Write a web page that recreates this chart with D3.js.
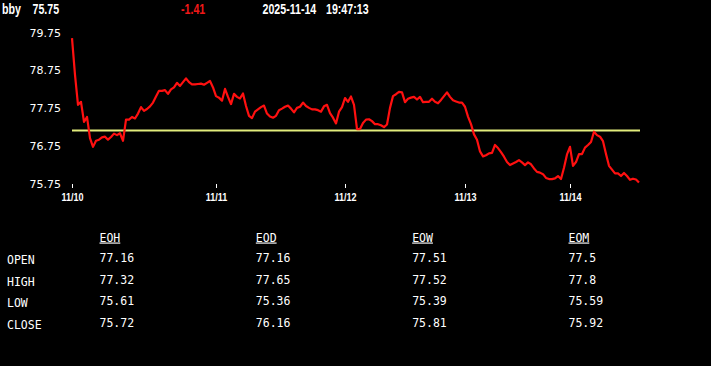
<!DOCTYPE html>
<html>
<head>
<meta charset="utf-8">
<script src="https://cdn.jsdelivr.net/npm/d3@7"></script>
<style>
  body { margin: 0; background: #000; }
  svg { display: block; }
</style>
</head>
<body>
<div id="chart"></div>
<script>
// quote header
const symbol = "bby";
const last = "75.75";
const change = "-1.41";
const stamp = ["2025-11-14", "19:47:13"];
const prevClose = 77.16;

// intraday prices, one array per session
const day10 = [79.60, 78.63, 77.84, 77.92, 77.39, 77.52, 76.96, 76.73, 76.89, 76.92,
  76.98, 77.00, 76.92, 76.99, 77.08, 77.04, 77.09, 76.89, 77.45, 77.45,
  77.52, 77.48, 77.61, 77.78, 77.68, 77.73, 77.80, 77.90, 78.06, 78.21,
  78.21, 78.23, 78.13, 78.25, 78.30, 78.42, 78.34, 78.44, 78.54, 78.44,
  78.38, 78.38, 78.39, 78.40, 78.37, 78.42, 78.47, 78.30];
const day11 = [78.07, 78.03, 77.95, 78.26, 78.05, 77.86, 78.13, 78.05, 78.01, 78.14,
  77.81, 77.55, 77.49, 77.66, 77.72, 77.78, 77.82, 77.61, 77.53, 77.50,
  77.55, 77.70, 77.74, 77.79, 77.82, 77.74, 77.64, 77.76, 77.79, 77.90,
  77.81, 77.76, 77.72, 77.72, 77.70, 77.66, 77.80, 77.84, 77.62, 77.50,
  77.35, 77.66, 77.78];
const day12 = [78.02, 77.92, 78.06, 77.84, 77.20, 77.20, 77.36, 77.45, 77.46, 77.41,
  77.33, 77.33, 77.30, 77.25, 77.32, 77.76, 78.07, 78.12, 78.18, 78.17,
  77.91, 78.00, 78.03, 78.05, 77.98, 78.05, 77.91, 77.92, 77.92, 78.00,
  77.92, 77.88, 77.97, 78.07, 78.17, 78.05, 77.96, 77.93, 77.90, 77.90];
const day13 = [77.79, 77.53, 77.33, 77.06, 76.92, 76.61, 76.48, 76.51, 76.56, 76.57,
  76.78, 76.70, 76.59, 76.47, 76.33, 76.25, 76.29, 76.33, 76.38, 76.32,
  76.25, 76.32, 76.27, 76.16, 76.07, 76.05, 76.01, 75.91, 75.88, 75.88,
  75.90, 75.96, 75.88, 76.18, 76.53];
const day14 = [76.73, 76.23, 76.33, 76.54, 76.54, 76.71, 76.78, 76.86, 77.13, 77.04,
  77.00, 76.88, 76.54, 76.23, 76.13, 76.03, 76.03, 75.96, 76.04, 75.96,
  75.86, 75.89, 75.87, 75.79];
const dayLabels = ["11/10", "11/11", "11/12", "11/13", "11/14"];
const yTicks = [75.75, 76.75, 77.75, 78.75, 79.75];

// summary table
const columns = ["EOH", "EOD", "EOW", "EOM"];
const rowNames = ["OPEN", "HIGH", "LOW", "CLOSE"];
const eoh = ["77.16", "77.32", "75.61", "75.72"];
const eod = ["77.16", "77.65", "75.36", "76.16"];
const eow = ["77.51", "77.52", "75.39", "75.81"];
const eom = ["77.5", "77.8", "75.59", "75.92"];

const width = 711, height = 366;

const svg = d3.select("#chart")
  .append("svg")
    .attr("width", width)
    .attr("height", height)
    .style("background", "#000");

// build the series and the bar index where each day starts
const days = [day10, day11, day12, day13, day14];
const prices = [];
const dayStart = [];
days.forEach(d => { dayStart.push(prices.length); d.forEach(p => prices.push(p)); });

const x = d3.scaleLinear().domain([0, prices.length - 1]).range([72, 639]);
const y = d3.scaleLinear().domain([75.75, 79.75]).range([184, 32.5]);

// header line (narrow bold face)
const header = svg.append("g")
  .attr("font-family", "'Liberation Sans', Arial, sans-serif")
  .attr("font-weight", "bold")
  .attr("font-size", 14);
[[2, symbol, "#fff"], [32.5, last, "#fff"], [181, change, "#f01818"],
 [262.5, stamp[0], "#fff"], [326, stamp[1], "#fff"]].forEach(h => {
  header.append("text")
    .attr("transform", "translate(" + h[0] + ",14) scale(0.76,1)")
    .attr("fill", h[2])
    .text(h[1]);
});

// y axis, labels only
const yAxis = svg.append("g")
  .attr("transform", "translate(64,0)")
  .call(d3.axisLeft(y).tickValues(yTicks).tickSize(0).tickPadding(3).tickFormat(d3.format(".2f")));
yAxis.select(".domain").remove();
yAxis.selectAll("text")
  .attr("fill", "#fff")
  .attr("font-family", "'DejaVu Sans', Verdana, sans-serif")
  .attr("font-size", 11);

// x axis, a tick at the first bar of each day
const xAxis = svg.append("g")
  .attr("transform", "translate(0,184)")
  .call(d3.axisBottom(x).tickValues(dayStart).tickSize(4).tickPadding(5)
    .tickFormat((d, i) => dayLabels[i]));
xAxis.select(".domain").remove();
xAxis.selectAll("line").attr("stroke", "#fff");
xAxis.selectAll("text")
  .attr("fill", "#fff")
  .attr("font-family", "'Liberation Sans', Arial, sans-serif")
  .attr("font-weight", "bold")
  .attr("font-size", 11)
  .attr("transform", "scale(0.82,1)");

// previous close reference
svg.append("line")
  .attr("x1", x(0))
  .attr("x2", x(prices.length - 1) + 1)
  .attr("y1", y(prevClose))
  .attr("y2", y(prevClose))
  .attr("stroke", "#e2ec7c")
  .attr("stroke-width", 2);

// price line
const line = d3.line()
  .x((d, i) => x(i))
  .y(d => y(d));

svg.append("path")
  .datum(prices)
  .attr("fill", "none")
  .attr("stroke", "#ff1010")
  .attr("stroke-width", 2.2)
  .attr("stroke-linejoin", "round")
  .attr("d", line);

// table
const colX = d3.scalePoint().domain(columns).range([99.5, 568.5]);
const rowY = d3.scalePoint().domain(rowNames).range([264, 329]);
const tableCols = [eoh, eod, eow, eom];

const table = svg.append("g")
  .attr("font-family", "'DejaVu Sans Mono', 'Liberation Mono', monospace")
  .attr("font-size", 11.5)
  .attr("fill", "#fff");

table.selectAll("text.col")
  .data(columns)
  .enter()
  .append("text")
    .attr("class", "col")
    .attr("x", d => colX(d))
    .attr("y", 241.5)
    .style("text-decoration", "underline")
    .text(d => d);

table.selectAll("text.row")
  .data(rowNames)
  .enter()
  .append("text")
    .attr("class", "row")
    .attr("x", 7)
    .attr("y", d => rowY(d))
    .text(d => d);

tableCols.forEach((vals, c) => {
  table.selectAll("text.v" + c)
    .data(vals)
    .enter()
    .append("text")
      .attr("class", "v" + c)
      .attr("x", colX(columns[c]))
      .attr("y", (d, i) => rowY(rowNames[i]) - 2)
      .text(d => d);
});
</script>
</body>
</html>
